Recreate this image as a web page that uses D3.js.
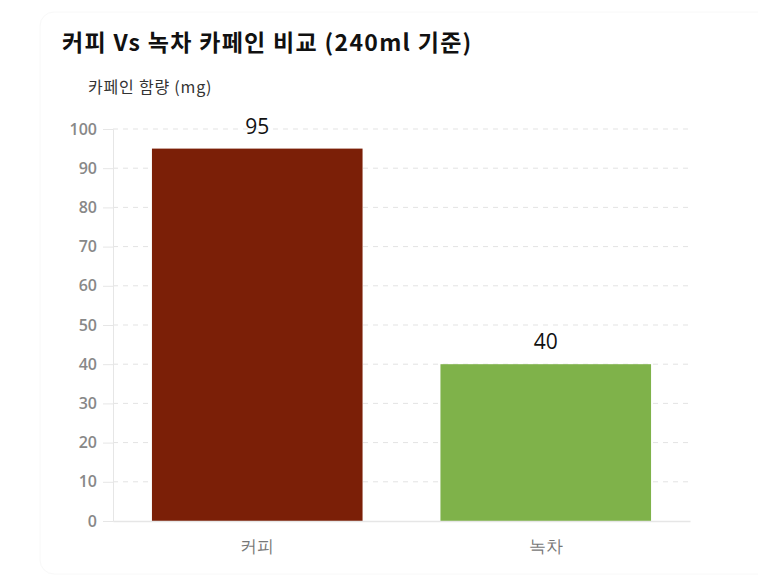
<!DOCTYPE html>
<html><head><meta charset="utf-8">
<script src="https://cdn.jsdelivr.net/npm/d3@7"></script>
<style>body{margin:0;background:#fff;}svg{display:block;font-family:"Noto Sans CJK KR","Noto Sans",sans-serif;}</style>
</head><body>
<svg id="c" width="758" height="582"></svg>
<script>
const categories = ["커피", "녹차"];
const values = [95, 40];
const colors = ["#7b1f07", "#7fb24a"];
const yTicks = [0,10,20,30,40,50,60,70,80,90,100];
const title = "커피 Vs 녹차 카페인 비교 (240ml 기준)";
const yTitle = "카페인 함량 (mg)";

const svg = d3.select("#c");
const m = {left:113, right:690, top:129, bottom:521};

// faint card border
svg.append("rect").attr("x",40).attr("y",12).attr("width",800).attr("height",562)
  .attr("rx",14).attr("fill","none").attr("stroke","#f8f8f8");

const x = d3.scaleBand().domain(categories).range([m.left,m.right]).paddingInner(0.27).paddingOuter(0.135);
const y = d3.scaleLinear().domain([0,100]).range([m.bottom,m.top]);

// grid
svg.append("g").selectAll("line").data(yTicks.filter(d=>d>0)).join("line")
  .attr("x1",m.left).attr("x2",m.right).attr("y1",d=>y(d)).attr("y2",d=>y(d))
  .attr("stroke","#e3e3e3").attr("stroke-dasharray","5,5");

// y axis
const ya = svg.append("g").attr("transform",`translate(${m.left},0)`)
  .call(d3.axisLeft(y).tickValues(yTicks).tickSize(10).tickPadding(6));
ya.select(".domain").attr("stroke","#e6e6e6");
ya.selectAll(".tick line").attr("stroke","#e6e6e6");
ya.selectAll("text").attr("fill","#888").attr("font-size",16).attr("font-weight","600")
  .attr("font-family","Open Sans, Liberation Sans, sans-serif");

// bars
svg.append("g").selectAll("rect").data(values).join("rect")
  .attr("x",(d,i)=>x(categories[i])).attr("width",x.bandwidth())
  .attr("y",d=>y(d)).attr("height",d=>y(0)-y(d)).attr("fill",(d,i)=>colors[i]);

// x axis
const xa = svg.append("g").attr("transform",`translate(0,${m.bottom})`)
  .call(d3.axisBottom(x).tickSize(0).tickPadding(19));
xa.select(".domain").attr("stroke","#e6e6e6").attr("stroke-width",1.5);
xa.selectAll("text").attr("fill","#777").attr("font-size",17);

// value labels
svg.append("g").selectAll("text").data(values).join("text")
  .attr("x",(d,i)=>x(categories[i])+x.bandwidth()/2).attr("y",d=>y(d)-15)
  .attr("text-anchor","middle").attr("font-size",21).attr("fill","#111")
  .attr("font-family","Open Sans, Liberation Sans, sans-serif")
  .text(d=>d);

// titles
svg.append("text").attr("x",62).attr("y",51).attr("font-size",23).attr("font-weight","bold")
  .attr("letter-spacing",1.3).attr("fill","#111").text(title);
svg.append("text").attr("x",88).attr("y",93).attr("font-size",16).attr("letter-spacing",0.8)
  .attr("fill","#333").text(yTitle);
</script>
</body></html>
